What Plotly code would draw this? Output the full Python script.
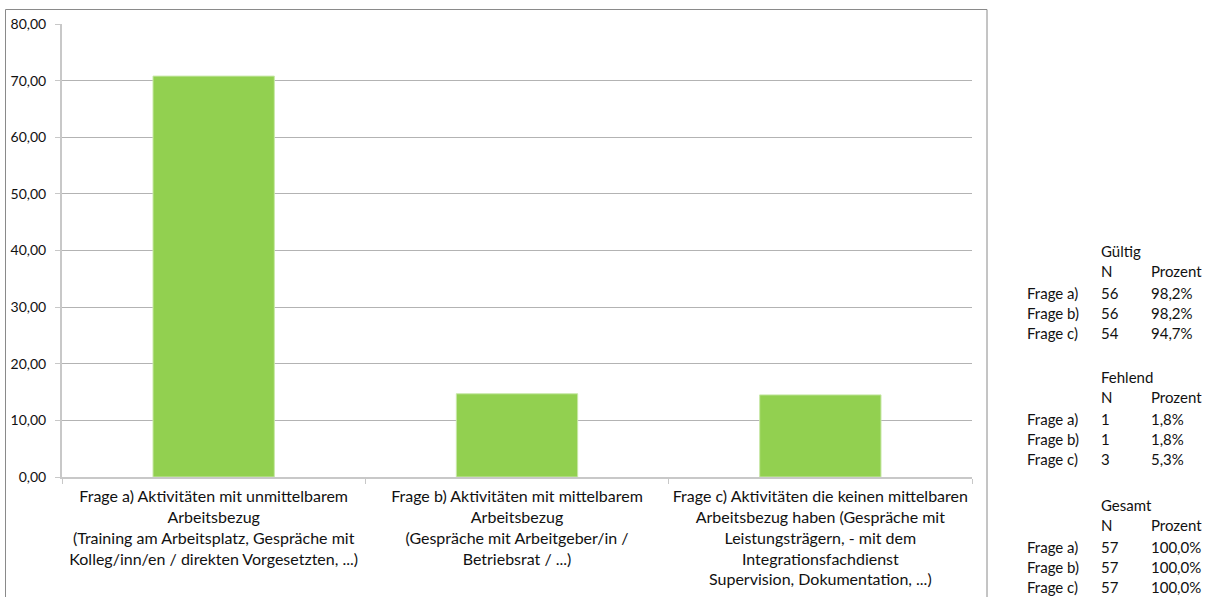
import plotly.graph_objects as go

# Mean share per activity category (in percent)
categories = [
    "Frage a) Aktivitäten mit unmittelbarem<br>Arbeitsbezug<br>(Training am Arbeitsplatz, Gespräche mit<br>Kolleg/inn/en / direkten Vorgesetzten, ...)",
    "Frage b) Aktivitäten mit mittelbarem<br>Arbeitsbezug<br>(Gespräche mit Arbeitgeber/in /<br>Betriebsrat / ...)",
    "Frage c) Aktivitäten die keinen mittelbaren<br>Arbeitsbezug haben (Gespräche mit<br>Leistungsträgern, - mit dem<br>Integrationsfachdienst<br>Supervision, Dokumentation, ...)",
]
means = [70.8, 14.7, 14.5]

# Case summary table
fragen = ["Frage a)", "Frage b)", "Frage c)"]
gueltig_n = [56, 56, 54]
gueltig_pct = ["98,2%", "98,2%", "94,7%"]
fehlend_n = [1, 1, 3]
fehlend_pct = ["1,8%", "1,8%", "5,3%"]
gesamt_n = [57, 57, 57]
gesamt_pct = ["100,0%", "100,0%", "100,0%"]

W, H = 1211, 597
L, R, T, B = 62, 972, 24, 477  # plot area in pixels

def px(x):
    return (x - L) / (R - L)

def py(y):
    return (B - y) / (B - T)

FONT = "Lato"
TABLE_FONT = "Lato"

fig = go.Figure(
    go.Bar(
        x=categories,
        y=means,
        width=0.4,
        marker=dict(color="#92d050", line=dict(color="#c8e8a8", width=1)),
        hoverinfo="y",
    )
)

fig.update_layout(
    width=W,
    height=H,
    margin=dict(l=L, r=W - R, t=T, b=H - B, autoexpand=False),
    paper_bgcolor="white",
    plot_bgcolor="white",
    separators=",.",
    showlegend=False,
    font=dict(family=FONT, size=16, color="#111111"),
)

fig.update_yaxes(
    range=[0, 80],
    dtick=10,
    tickformat=".2f",
    showgrid=True,
    gridcolor="#b3b3b3",
    gridwidth=1,
    showline=True,
    linecolor="#c8c8c8",
    linewidth=2,
    ticks="outside",
    ticklen=5,
    tickcolor="#c8c8c8",
    ticklabelstandoff=6,
    tickfont=dict(family=FONT, size=14, color="#111111"),
    zeroline=False,
    automargin=False,
)

fig.update_xaxes(
    showgrid=False,
    showline=True,
    linecolor="#c8c8c8",
    linewidth=2,
    ticks="outside",
    tickson="boundaries",
    ticklen=5,
    tickcolor="#c8c8c8",
    ticklabelstandoff=4,
    tickfont=dict(family=FONT, size=16, color="#111111"),
    tickangle=0,
    automargin=False,
)

# Chart frame
fig.add_shape(
    type="rect",
    xref="paper", yref="paper",
    x0=px(5.5), x1=px(987), y0=py(620), y1=py(9.5),
    line=dict(color="#8a8a8a", width=1),
    fillcolor="rgba(0,0,0,0)",
    layer="below",
)

annotations = []

def text(x, y, s):
    annotations.append(dict(
        x=px(x), y=py(y), xref="paper", yref="paper",
        text=s, showarrow=False, xanchor="left", yanchor="middle",
        font=dict(family=TABLE_FONT, size=15, color="#111111"),
    ))

COL_LABEL, COL_N, COL_PCT = 1025, 1099, 1149
blocks = [
    ("Gültig", gueltig_n, gueltig_pct, 251),
    ("Fehlend", fehlend_n, fehlend_pct, 377),
    ("Gesamt", gesamt_n, gesamt_pct, 505),
]
for title, ns, pcts, y0 in blocks:
    text(COL_N, y0, title)
    text(COL_N, y0 + 20, "N")
    text(COL_PCT, y0 + 20, "Prozent")
    for i, (f, n, p) in enumerate(zip(fragen, ns, pcts)):
        yy = y0 + 42 + 20 * i
        text(COL_LABEL, yy, f)
        text(COL_N, yy, str(n))
        text(COL_PCT, yy, p)

fig.update_layout(annotations=annotations)

fig.write_html("out.html")
